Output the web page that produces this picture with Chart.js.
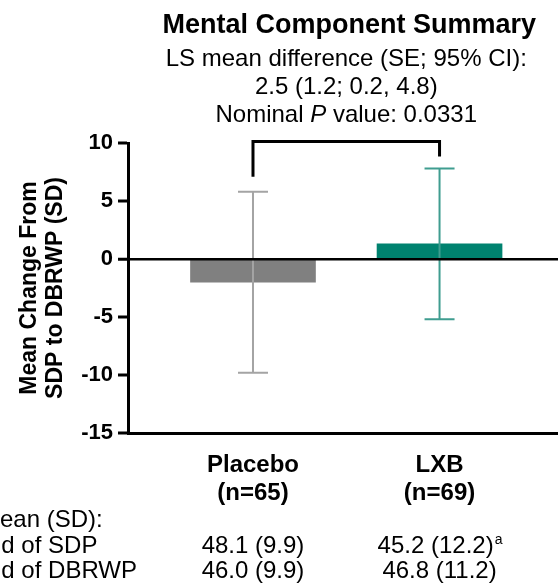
<!DOCTYPE html>
<html>
<head>
<meta charset="utf-8">
<script src="https://cdn.jsdelivr.net/npm/chart.js@4"></script>
<style>
  html, body { margin: 0; padding: 0; background: #fff; overflow: hidden; }
  #wrap { position: relative; width: 558px; height: 584px; }
</style>
</head>
<body>
<div id="wrap"><canvas id="mcs" width="558" height="584"></canvas></div>
<script>
// Treatment groups and their change scores (mean ± SD)
const groups = ['Placebo', 'LXB'];
const groupSizes = ['(n=65)', '(n=69)'];
const meanChange = [-2.0, 1.3];
const sdChange = [7.8, 6.5];

// Summary table under the axis
const rowLabels = ['Mean (SD):', 'End of SDP', 'End of DBRWP'];
const endOfSDP = ['48.1 (9.9)', '45.2 (12.2)'];
const endOfSDPNotes = ['', 'a'];
const endOfDBRWP = ['46.0 (9.9)', '46.8 (11.2)'];

// Axis ticks
const yTicks = [-15, -10, -5, 0, 5, 10];

// Header text
const titleText = 'Mental Component Summary';
const statLines = ['LS mean difference (SE; 95% CI):', '2.5 (1.2; 0.2, 4.8)'];
const pValueParts = ['Nominal ', 'P', ' value: 0.0331'];

const barColors = ['#808080', '#00826f'];
const whiskerColors = ['#a4a4a4', '#3f9d90'];

const FONT = '"Liberation Sans", Arial, Helvetica, sans-serif';
Chart.defaults.font.family = FONT;
Chart.defaults.color = '#000';

// Error bars (mean ± SD) and the comparison bracket
const errorBars = {
  id: 'errorBars',
  afterDatasetsDraw(chart) {
    const { ctx, scales: { y }, chartArea } = chart;
    const bars = chart.getDatasetMeta(0).data;
    const cap = 15;
    const tops = [];
    ctx.save();
    bars.forEach((bar, i) => {
      const yHi = y.getPixelForValue(meanChange[i] + sdChange[i]);
      const yLo = y.getPixelForValue(meanChange[i] - sdChange[i]);
      tops.push(yHi);
      ctx.strokeStyle = whiskerColors[i];
      ctx.lineWidth = 2;
      ctx.beginPath();
      ctx.moveTo(bar.x, yHi); ctx.lineTo(bar.x, yLo);
      ctx.moveTo(bar.x - cap, yHi); ctx.lineTo(bar.x + cap, yHi);
      ctx.moveTo(bar.x - cap, yLo); ctx.lineTo(bar.x + cap, yLo);
      ctx.stroke();
    });
    // bracket joining the two groups
    const top = chartArea.top - 1.5;
    ctx.strokeStyle = '#000';
    ctx.lineWidth = 3;
    ctx.lineJoin = 'miter';
    ctx.beginPath();
    ctx.moveTo(bars[0].x, tops[0] - 15);
    ctx.lineTo(bars[0].x, top);
    ctx.lineTo(bars[1].x, top);
    ctx.lineTo(bars[1].x, tops[1] - 12);
    ctx.stroke();
    ctx.restore();
  }
};

// Title, statistics header and the summary table
const annotations = {
  id: 'annotations',
  afterDraw(chart) {
    const { ctx, chartArea } = chart;
    const bars = chart.getDatasetMeta(0).data;
    const cx = (bars[0].x + bars[1].x) / 2;
    ctx.save();
    ctx.fillStyle = '#000';
    ctx.textBaseline = 'alphabetic';
    ctx.textAlign = 'center';

    ctx.font = 'bold 27px ' + FONT;
    ctx.fillText(titleText, cx + 3, 33);

    ctx.font = '24px ' + FONT;
    ctx.fillText(statLines[0], cx, 66);
    ctx.fillText(statLines[1], cx, 94);

    // P value line with italic "P"
    ctx.textAlign = 'left';
    const fonts = ['24px ' + FONT, 'italic 24px ' + FONT, '24px ' + FONT];
    const widths = pValueParts.map((t, i) => { ctx.font = fonts[i]; return ctx.measureText(t).width; });
    let px = cx - widths.reduce((a, b) => a + b, 0) / 2;
    pValueParts.forEach((t, i) => { ctx.font = fonts[i]; ctx.fillText(t, px, 122); px += widths[i]; });

    // summary table
    const base = chartArea.bottom;
    const rowY = [base + 94, base + 120, base + 145];
    ctx.font = '24px ' + FONT;
    ctx.fillText(rowLabels[0], -20, rowY[0]);
    ctx.fillText(rowLabels[1], -28, rowY[1]);
    ctx.fillText(rowLabels[2], -28, rowY[2]);

    bars.forEach((bar, i) => {
      ctx.font = '24px ' + FONT;
      const w = ctx.measureText(endOfSDP[i]).width;
      ctx.font = '14px ' + FONT;
      const ws = endOfSDPNotes[i] ? ctx.measureText(endOfSDPNotes[i]).width : 0;
      const x0 = bar.x - (w + ws) / 2;
      ctx.font = '24px ' + FONT;
      ctx.textAlign = 'left';
      ctx.fillText(endOfSDP[i], x0, rowY[1]);
      if (endOfSDPNotes[i]) {
        ctx.font = '14px ' + FONT;
        ctx.fillText(endOfSDPNotes[i], x0 + w + 1, rowY[1] - 9);
      }
      ctx.font = '24px ' + FONT;
      ctx.textAlign = 'center';
      ctx.fillText(endOfDBRWP[i], bar.x, rowY[2]);
    });
    ctx.restore();
  }
};

new Chart(document.getElementById('mcs'), {
  type: 'bar',
  data: {
    datasets: [{
      data: groups.map((g, i) => ({ x: i, y: meanChange[i] })),
      backgroundColor: barColors,
      borderWidth: 0,
      barThickness: 125
    }]
  },
  options: {
    responsive: false,
    animation: false,
    layout: { padding: { top: 143, left: 13, right: 0, bottom: 0 } },
    plugins: { legend: { display: false }, tooltip: { enabled: false } },
    scales: {
      x: {
        type: 'linear',
        offset: false,
        min: -0.67,
        max: 1.635,
        afterBuildTicks: s => { s.ticks = groups.map((g, i) => ({ value: i })); },
        afterFit: s => { s.height = 151; },
        grid: { display: false, drawTicks: false, offset: false },
        border: { display: true, color: '#000', width: 3 },
        ticks: {
          padding: 18,
          autoSkip: false,
          maxRotation: 0,
          color: '#000',
          font: { size: 24, weight: 'bold', lineHeight: 28 / 24 },
          callback: v => [groups[v], groupSizes[v]]
        }
      },
      y: {
        min: -15,
        max: 10,
        afterBuildTicks: s => { s.ticks = yTicks.map(v => ({ value: v })); },
        afterFit: s => { s.width = 115; },
        grid: {
          z: 1,
          color: c => (c.tick && c.tick.value === 0 ? '#000' : 'rgba(0,0,0,0)'),
          lineWidth: c => (c.tick && c.tick.value === 0 ? 2.5 : 0),
          tickColor: '#000',
          tickWidth: 3,
          tickLength: 10
        },
        border: { display: true, color: '#000', width: 3, z: 2 },
        ticks: { padding: 5, color: '#000', font: { size: 22, weight: 'bold' } },
        title: {
          display: true,
          text: ['Mean Change From', 'SDP to DBRWP (SD)'],
          color: '#000',
          font: { size: 23, weight: 'bold', lineHeight: 26 / 23 },
          padding: { top: 4, bottom: 4 }
        }
      }
    }
  },
  plugins: [errorBars, annotations]
});
</script>
</body>
</html>
